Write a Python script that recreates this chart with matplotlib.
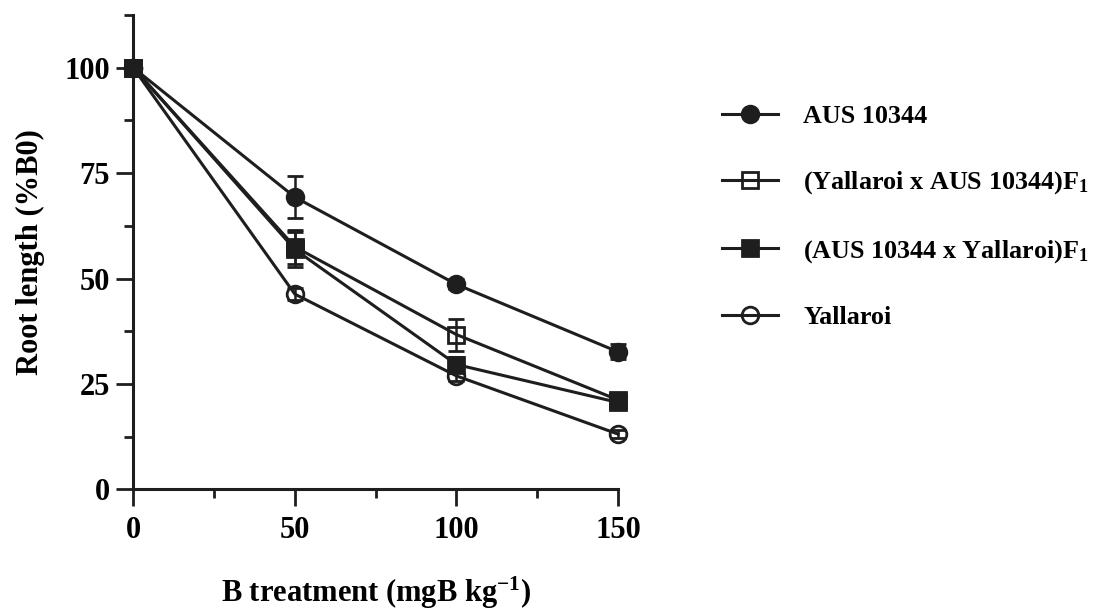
#!/usr/bin/env python3
"""Root length vs. boron treatment for AUS 10344, Yallaroi and their reciprocal F1s."""

import matplotlib
matplotlib.use('Agg')
import matplotlib.pyplot as plt
from matplotlib.lines import Line2D
from matplotlib.ticker import MultipleLocator

plt.rcParams.update({
    'font.family': 'Liberation Serif',
    'font.weight': 'bold',
    'mathtext.fontset': 'custom',
    'mathtext.rm': 'Liberation Serif:bold',
    'mathtext.it': 'Liberation Serif:bold',
    'mathtext.bf': 'Liberation Serif:bold',
    'figure.facecolor': 'white',
})

INK = '#1e1e1e'

# B treatment levels (mgB/kg)
b_levels = [0, 50, 100, 150]

# root length as % of B0, with error bars
aus = [100, 69.3, 48.6, 32.6]
aus_err = [0, 5.0, 1.2, 1.8]
yal_x_aus = [100, 57.5, 36.7, 21.2]
yal_x_aus_err = [0, 4.0, 3.8, 1.2]
aus_x_yal = [100, 56.9, 29.6, 20.6]
aus_x_yal_err = [0, 4.1, 1.8, 1.2]
yallaroi = [100, 46.3, 26.9, 13.1]
yallaroi_err = [0, 1.5, 1.2, 1.0]

series = [
    ('AUS 10344', aus, aus_err, 'o', INK),
    ('(Yallaroi x AUS 10344)F$_1$', yal_x_aus, yal_x_aus_err, 's', 'none'),
    ('(AUS 10344 x Yallaroi)F$_1$', aus_x_yal, aus_x_yal_err, 's', INK),
    ('Yallaroi', yallaroi, yallaroi_err, 'o', 'none'),
]

fig = plt.figure(figsize=(11.04, 6.13), dpi=100)
ax = fig.add_axes([0.1207, 0.2018, 0.4391, 0.7737])

style = dict(color=INK, lw=2.2, markersize=12, markeredgecolor=INK,
             markeredgewidth=2.0)

handles = []
for label, vals, err, marker, face in series:
    ax.errorbar(b_levels, vals, yerr=err, marker=marker,
                markerfacecolor=face, ecolor=INK, elinewidth=1.8,
                capsize=6, capthick=1.8, clip_on=False, **style)
    handles.append(Line2D([], [], marker=marker, markerfacecolor=face,
                          label=label, **style))

ax.set_xlim(0, 150)
ax.set_ylim(0, 112.5)
ax.xaxis.set_major_locator(MultipleLocator(50))
ax.xaxis.set_minor_locator(MultipleLocator(25))
ax.yaxis.set_major_locator(MultipleLocator(25))
ax.yaxis.set_minor_locator(MultipleLocator(12.5))

for side in ('top', 'right'):
    ax.spines[side].set_visible(False)
for side in ('left', 'bottom'):
    ax.spines[side].set_linewidth(2.2)
    ax.spines[side].set_color(INK)

ax.tick_params(which='major', direction='out', length=12, width=2.0,
               color=INK, labelsize=22, pad=5)
ax.tick_params(which='minor', direction='out', length=6.5, width=2.0, color=INK)
ax.tick_params(axis='x', which='major', pad=7)

ax.set_xlabel('B treatment (mgB kg$^{\\mathrm{-1}}$)', fontsize=22,
              fontweight='bold', labelpad=22)
ax.set_ylabel('Root length (%B0)', fontsize=22, fontweight='bold', labelpad=14)

ax.legend(handles=handles, loc='upper left',
          bbox_to_anchor=(0.633, 0.867), bbox_transform=fig.transFigure,
          frameon=False, fontsize=18.8, handlelength=2.15,
          handletextpad=0.95, labelspacing=1.58, borderpad=0.4)

plt.savefig('out.png', dpi=100)
plt.close()
